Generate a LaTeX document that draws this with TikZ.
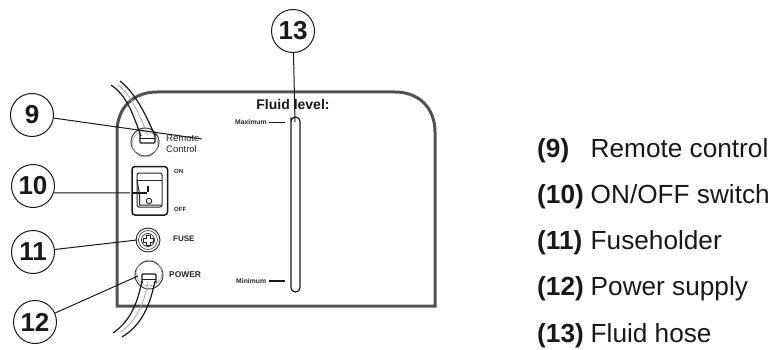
\documentclass[tikz,border=0pt]{standalone}
\usepackage{fontspec}
\setmainfont{Liberation Sans}
\tikzset{
 x=1pt,y=-1pt,
 callout/.style={circle,draw=black!90,line width=1pt,minimum size=43pt,inner sep=0pt,font=\fontsize{26}{26}\selectfont\bfseries,text=black!90},
 leader/.style={draw=black!90,line width=1pt},
 panel/.style={draw=black!68,line width=3pt},
 tiny/.style={inner sep=0pt,anchor=west,text=black!85},
 legnum/.style={inner sep=0pt,anchor=base west,font=\fontsize{26.2}{26}\selectfont\bfseries,text=black!90},
 legtxt/.style={inner sep=0pt,anchor=base west,font=\fontsize{26.2}{26}\selectfont,text=black!90},
 hose/.style={draw=black!90,line width=1.2pt},
 hosemid/.style={draw=black!35,line width=.8pt},
}
\begin{document}
\begin{tikzpicture}
\useasboundingbox (0,0) rectangle (773,350);
\fill[white] (0,0) rectangle (773,350);
% panel
\draw[panel,line join=miter] (117,306) -- (117,132) .. controls (117,108) and (133,92) .. (157,92) -- (395,92) .. controls (419,92) and (435,108) .. (435,132) -- (435,306) -- cycle;
% remote connector
\draw[black!85,line width=.9pt] (145,142) circle (14);
\draw[black!35,line width=.6pt] (145,144) circle (13);
\draw[black!90,line width=1.1pt,rounded corners=1pt] (140,134) -- (140,143) -- (155,143) -- (155,134);
\draw[black!90,line width=.8pt] (140,138) -- (155,138);
\draw[hose] (111,85) .. controls (127,96) and (132,112) .. (141,136);
\draw[hose] (120,81) .. controls (134,92) and (145,112) .. (155,136);
\draw[hosemid] (118,85) .. controls (131,95) and (138,112) .. (148,135);
\node[tiny,font=\fontsize{9.5}{10}\selectfont,text=black!85] at (166,138) {Remote};
\node[tiny,font=\fontsize{9.5}{10}\selectfont,text=black!85] at (166,149) {Control};
% switch
\draw[black!90,line width=1.5pt,rounded corners=3pt] (132,166.5) rectangle (167.5,215);
\draw[black!85,line width=1pt,rounded corners=2pt] (137,173) rectangle (162,207);
\draw[black!85,line width=1pt] (137,180) -- (139.5,194) -- (139.5,205) -- (162,205);
\draw[black!85,line width=1pt] (137,180) -- (162,180);
\draw[black!90,line width=1.4pt] (132,193) -- (147,193);
\draw[black!90,line width=1.2pt] (148,186) -- (148,192);
\draw[black!85,line width=.9pt] (149,201) circle (2.8);
\node[tiny,font=\fontsize{6}{7}\selectfont\bfseries] at (174,171) {ON};
\node[tiny,font=\fontsize{6}{7}\selectfont\bfseries] at (174,209) {OFF};
% fuse
\draw[black!85,line width=.9pt] (148,240) circle (12);
\draw[black!70,line width=.7pt] (148,240) circle (9.5);
\draw[black!75,line width=.8pt] (148,240) circle (6.5);
\draw[black!85,line width=.8pt] (146,235) -- (150,235) -- (150,238) -- (153,238) -- (153,242) -- (150,242) -- (150,245) -- (146,245) -- (146,242) -- (143,242) -- (143,238) -- (146,238) -- cycle;
\node[tiny,font=\fontsize{8}{8}\selectfont\bfseries] at (173,238.5) {FUSE};
% power connector
\draw[black!85,line width=.9pt] (149,275) circle (14);
\draw[black!35,line width=.6pt] (149,273) circle (13);
\draw[black!90,line width=1.1pt,rounded corners=1pt] (142,283) -- (142,274) -- (156,274) -- (156,283);
\draw[black!90,line width=.8pt] (142,279) -- (156,279);
\draw[hose] (142,281) .. controls (138,300) and (132,320) .. (113,333);
\draw[hose] (155,281) .. controls (150,305) and (142,325) .. (122,337);
\draw[hosemid] (148,282) .. controls (144,304) and (136,322) .. (120,332);
\node[tiny,font=\fontsize{8.4}{9}\selectfont\bfseries] at (169,275) {POWER};
% fluid level
\node[inner sep=0pt,font=\fontsize{14}{14}\selectfont\bfseries,text=black!90] at (293,104) (fl) {Fluid level:};
\draw[black!90,line width=1.2pt,rounded corners=4.4pt,fill=white] (291,122) -- (291,117) -- (300,117) -- (300,292) -- (291,292) -- cycle;
\node[tiny,font=\fontsize{6.8}{7}\selectfont\bfseries] at (235,122.5) {Maximum};
\node[tiny,font=\fontsize{6.8}{7}\selectfont\bfseries] at (236,281) {Minimum};
\draw[black!90,line width=1.5pt] (269,122.5) -- (285,122.5);
\draw[black!90,line width=1.5pt] (269,281) -- (285,281);
% callouts
\node[callout] (c9) at (32,115) {9};
\node[callout] (c10) at (33,186) {10};
\node[callout] (c11) at (33,252) {11};
\node[callout] (c12) at (35,322) {12};
\node[callout] (c13) at (293,31) {13};
\coordinate (e9) at (202,139);
\coordinate (e10) at (130,193);
\coordinate (e11) at (137,240);
\coordinate (e12) at (138,276);
\coordinate (e13) at (295,122);
\draw[leader] (c9) -- (e9);
\draw[leader] (c10.-18) -- (e10);
\draw[leader] (c11) -- (e11);
\draw[leader] (c12) -- (e12);
\draw[leader] (c13) -- (e13);
% legend
\node[legnum] at (537,157.5) {(9)};
\node[legtxt] at (590.5,157.5) {Remote control};
\node[legnum] at (537,203) {(10)};
\node[legtxt] at (590.5,203) {ON/OFF switch};
\node[legnum] at (537,249) {(11)};
\node[legtxt] at (590.5,249) {Fuseholder};
\node[legnum] at (537,295) {(12)};
\node[legtxt] at (590.5,295) {Power supply};
\node[legnum] at (537,342) {(13)};
\node[legtxt] at (590.5,342) {Fluid hose};
\end{tikzpicture}
\end{document}
